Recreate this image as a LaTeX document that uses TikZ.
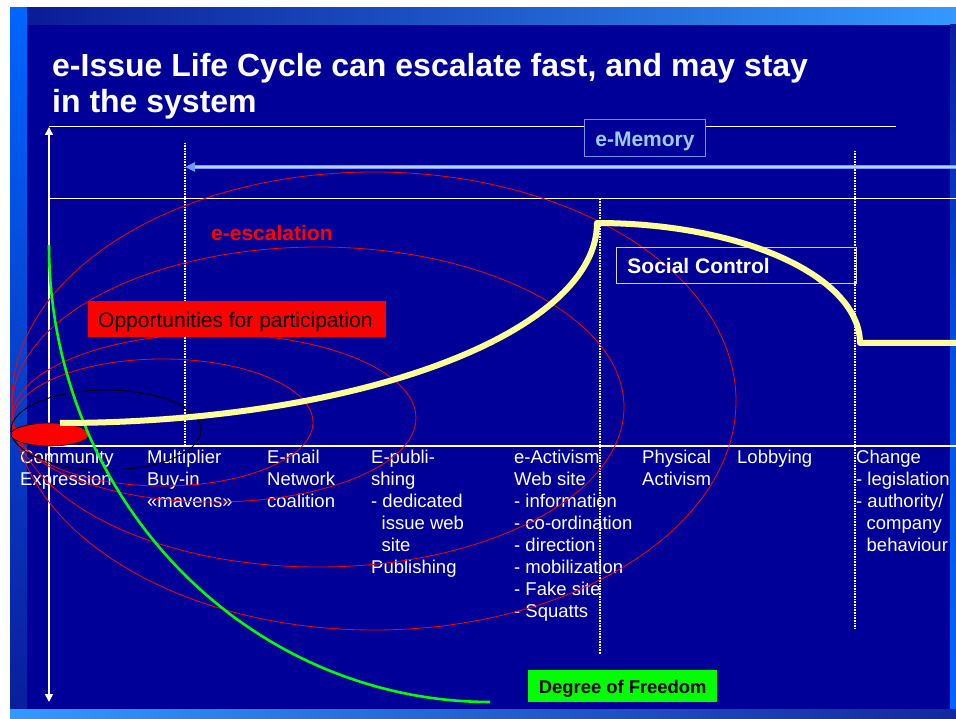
\documentclass[tikz,border=0pt]{standalone}
\usepackage{fontspec}
\setmainfont{Liberation Sans}
\usetikzlibrary{arrows.meta}
\definecolor{slidebg}{HTML}{000099}
\definecolor{topL}{HTML}{0A1C96}
\definecolor{topR}{HTML}{3399FF}
\definecolor{barBright}{HTML}{0066FF}
\definecolor{barDark}{HTML}{0A1E9E}
\definecolor{botL}{HTML}{3399FF}
\definecolor{botR}{HTML}{12289E}
\definecolor{memText}{HTML}{99CCFF}
\definecolor{memBorder}{HTML}{6A96F0}
\definecolor{arrOuter}{HTML}{6F9BFF}
\definecolor{arrInner}{HTML}{B4D2FF}
\definecolor{yel}{HTML}{FFFF99}
\definecolor{grn}{HTML}{00FF00}
\definecolor{scBorder}{HTML}{D8D8B0}
\tikzset{
  lbl/.style={anchor=north west, inner sep=0pt, text=white, font=\fontsize{18.5}{22}\selectfont, align=left},
  redline/.style={draw=red, line width=0.8pt},
  dotline/.style={draw=white, line width=1.4pt, dash pattern=on 1pt off 0.6pt},
  gridline/.style={draw=white, line width=1pt},
  axtip/.tip={Triangle[length=8pt,width=8pt]},
}
\begin{document}
\begin{tikzpicture}[x=1pt,y=-1pt]
\useasboundingbox (0,0) rectangle (956,719);
\fill[white] (0,0) rectangle (956,719);
% slide background and bars
\fill[slidebg] (10,8) rectangle (956,719);
\shade[left color=topL, right color=topR] (27,8) rectangle (956,25);
\shade[top color=barBright, bottom color=barDark] (10,8) rectangle (27,709);
\shade[top color=barDark, bottom color=barBright, middle color=barBright!70!barDark] (950,25) rectangle (956,709);
\shade[left color=botL, right color=botR] (10,709) rectangle (956,719);

% title (first baseline at y=76)
\node[anchor=north west, inner sep=0pt, text=white, align=left,
      font=\fontsize{32}{36}\selectfont\bfseries] (title) at (52,50.8)
  {\strut e-Issue Life Cycle can escalate fast, and may stay\\in the system};

% grid lines
\coordinate (tl0) at (49,127); \coordinate (tl1) at (896,127);
\coordinate (ml0) at (49,199); \coordinate (ml1) at (956,199);
\coordinate (bl0) at (49,446); \coordinate (bl1) at (956,446);
\draw[gridline] (tl0) -- (tl1);
\draw[gridline] (ml0) -- (ml1);
\draw[draw=white, line width=1.5pt] (bl0) -- (bl1);

% dotted verticals
\coordinate (d1a) at (185,143); \coordinate (d1b) at (185,446);
\coordinate (d2a) at (600,199); \coordinate (d2b) at (600,654);
\coordinate (d3a) at (855,151); \coordinate (d3b) at (855,629);
\draw[dotline] (d1a) -- (d1b);
\draw[dotline] (d2a) -- (d2b);
\draw[dotline] (d3a) -- (d3b);

% e-memory arrow
\coordinate (ma0) at (956,167); \coordinate (ma1) at (185,167); \coordinate (ma2) at (195,167);
\draw[draw=arrOuter, line width=3.4pt, -{Triangle[length=10pt,width=9pt]}] (ma0) -- (ma1);
\draw[draw=arrInner, line width=1.1pt] (ma0) -- (ma2);

% vertical axis
\coordinate (axTop) at (49,127); \coordinate (axBot) at (49,702);
\draw[draw=white, line width=1.5pt, axtip-axtip] (axTop) -- (axBot);

% e-Memory box
\node[draw=memBorder, fill=slidebg, line width=1pt, anchor=north west, inner sep=0pt,
      minimum width=121pt, text height=27pt, text depth=10pt, text=memText,
      font=\fontsize{21}{24}\selectfont\bfseries] (mem) at (584,119) {e-Memory};

% stage labels (first baseline at y=463)
\node[lbl] (lc) at (20,447.6) {\strut Community\\Expression};
\node[lbl] (lm) at (147,447.6) {\strut Multiplier\\Buy-in\\«mavens»};
\node[lbl] (le) at (267,447.6) {\strut E-mail\\Network\\coalition};
\node[lbl] (lp) at (371,447.6) {\strut E-publi-\\shing\\- dedicated\\\hspace*{10.5pt}issue web\\\hspace*{10.5pt}site\\Publishing};
\node[lbl] (la) at (514,447.6) {\strut e-Activism\\Web site\\- information\\- co-ordination\\- direction\\- mobilization\\- Fake site\\- Squatts};
\node[lbl] (lph) at (642,447.6) {\strut Physical\\Activism};
\node[lbl] (llo) at (737,447.6) {\strut Lobbying};
\node[lbl] (lch) at (856,447.6) {\strut Change\\- legislation\\- authority/\\\hspace*{10.5pt}company\\\hspace*{10.5pt}behaviour};

% escalation ellipses
\draw[redline] (162.5,422.5) ellipse [x radius=150.5pt, y radius=63.5pt];
\draw[redline] (214,418) ellipse [x radius=202pt, y radius=84pt];
\draw[redline] (318,407) ellipse [x radius=306pt, y radius=160pt];
\draw[redline] (374,401) ellipse [x radius=362pt, y radius=229pt];
\draw[draw=black, line width=0.9pt] (106,430) ellipse [x radius=95pt, y radius=40pt];
\filldraw[fill=red, draw=black, line width=0.6pt] (50,434.5) ellipse [x radius=39pt, y radius=11.5pt];

\node[anchor=base west, inner sep=0pt, text=red, font=\fontsize{21}{24}\selectfont\bfseries] (esc) at (211,241) {e-escalation};

% degree of freedom curve
\draw[draw=grn, line width=2.6pt] plot[domain=180:90, samples=90] ({490+441*cos(\x)},{245+457*sin(\x)});

% social control box
\node[draw=scBorder, line width=0.9pt, anchor=north west, inner sep=0pt,
      text height=26pt, text depth=10pt, text=white,
      font=\fontsize{21}{24}\selectfont\bfseries] (sc) at (616,247)
  {\makebox[240pt][l]{\hspace*{11pt}Social Control}};

% life cycle curve
\draw[draw=yel, line width=6pt, line join=round]
  plot[domain=90:0, samples=90] ({60+537*cos(\x)},{223+200*sin(\x)})
  -- plot[domain=270:360, samples=60] ({597+263*cos(\x)},{343+120*sin(\x)})
  -- (956,343);

% opportunities box
\node[fill=red, anchor=north west, inner sep=0pt, text height=26pt, text depth=10pt,
      text=black, font=\fontsize{21}{24}\selectfont] (opp) at (88,301)
  {\makebox[298pt][l]{\hspace*{10pt}Opportunities for participation}};

% degree of freedom label
\node[fill=grn, anchor=north west, inner sep=0pt, minimum width=189pt, text height=23pt, text depth=9pt,
      text=black, font=\fontsize{18.4}{22}\selectfont\bfseries] (dof) at (528,670) {Degree of Freedom};
\end{tikzpicture}
\end{document}
